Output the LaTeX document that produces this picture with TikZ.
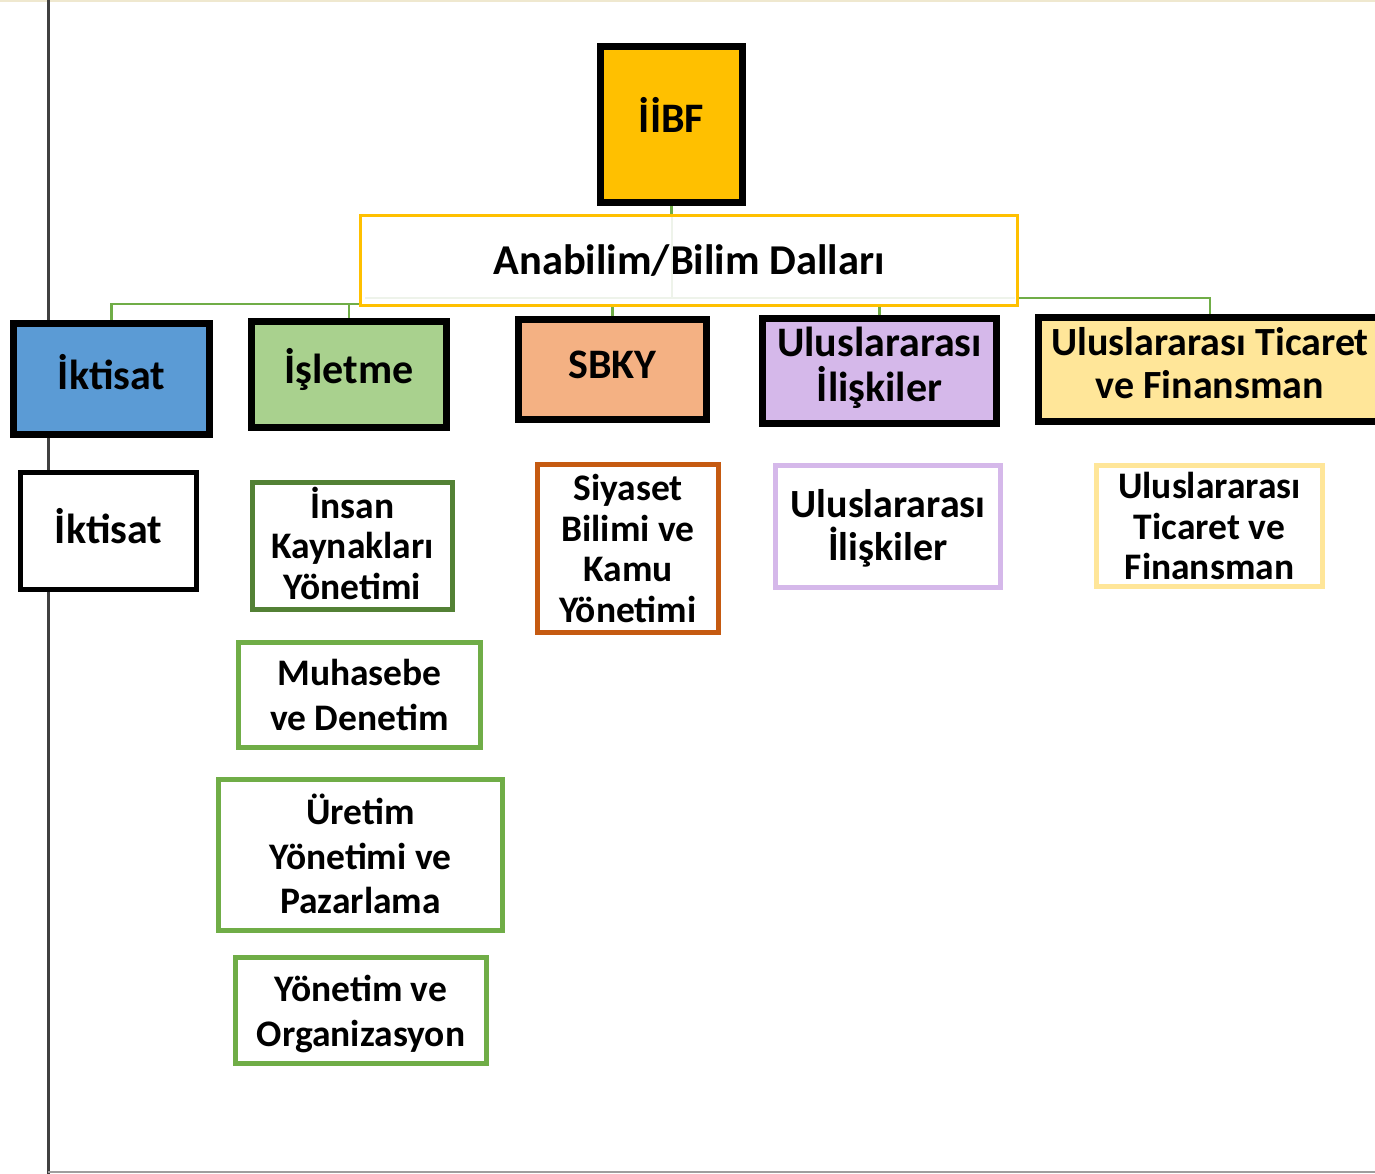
\documentclass[tikz,border=0pt]{standalone}
\usepackage{fontspec}
\setmainfont{Carlito}
\usetikzlibrary{backgrounds}
\definecolor{gold}{HTML}{FFC000}
\definecolor{blu}{HTML}{5B9BD5}
\definecolor{lgreen}{HTML}{A9D18E}
\definecolor{salmon}{HTML}{F4B183}
\definecolor{lav}{HTML}{D5B8EA}
\definecolor{lyel}{HTML}{FFE699}
\definecolor{grn}{HTML}{70AD47}
\definecolor{dgrn}{HTML}{538135}
\definecolor{rust}{HTML}{C55A11}
\definecolor{faint}{HTML}{EEF3EA}
\definecolor{cream}{HTML}{EFE8CF}
\definecolor{axis}{HTML}{404040}
\newcommand\fsz[2]{\fontsize{#1}{#2}\selectfont}
\begin{document}
\begin{tikzpicture}[x=1pt,y=-1pt,
  every node/.style={align=center, inner sep=0pt, rectangle},
  topbox/.style={draw=black, line width=7pt},
  subbox/.style={draw, line width=4.5pt, fill=white},
  conn/.style={draw=grn, line width=2.2pt}]
\useasboundingbox (0,0) rectangle (1375,1174);
% frame lines
\begin{scope}[on background layer]
\fill[white] (0,0) rectangle (1375,1174);
\draw[cream, line width=2pt] (0,1) -- (1375,1);
\draw[axis, line width=3pt] (48,0) -- (48,1174);
\draw[black!38, line width=1.6pt] (48,1172) -- (1375,1172);
\end{scope}
% root
\node[topbox, fill=gold, minimum width=142pt, minimum height=156pt,
  label={[font=\bfseries\fsz{42}{45}, yshift=9.5pt]center:İİBF}] (iibf) at (671.5,124.5) {};
\node[draw=gold, line width=2.5pt, fill=white, minimum width=657pt, minimum height=90pt,
  font=\bfseries\fsz{42.5}{48}] (ana) at (689,260.5) {Anabilim/Bilim Dalları};
% departments
\node[topbox, fill=blu, minimum width=196pt, minimum height=111pt,
  label={[font=\bfseries\fsz{42}{45}, yshift=7pt]center:İktisat}] (ikt) at (111.5,379) {};
\node[topbox, fill=lgreen, minimum width=195pt, minimum height=106pt,
  label={[font=\bfseries\fsz{42}{45}, yshift=5.5pt]center:İşletme}] (isl) at (349,374.5) {};
\node[topbox, fill=salmon, minimum width=188pt, minimum height=100pt,
  label={[font=\bfseries\fsz{42}{45}, yshift=4.5pt]center:SBKY}] (sb) at (612.5,369.5) {};
\node[topbox, fill=lav, minimum width=234pt, minimum height=105pt,
  label={[font=\bfseries\fsz{42}{45}, yshift=3pt]center:Uluslararası\\İlişkiler}] (ui) at (879.5,371) {};
\node[topbox, fill=lyel, minimum width=343pt, minimum height=104pt,
  label={[font=\bfseries\fsz{40}{43}, yshift=6pt]center:Uluslararası Ticaret\\ve Finansman}] (utf) at (1210,369.5) {};
% connectors
\begin{scope}[on background layer]
\coordinate (hl) at (0,304);
\coordinate (hr) at (0,298);
\draw[conn] (iibf.south) -- (iibf.south |- ana.north);
\draw[conn] (ikt.north) |- (isl.north |- hl) -- (isl.north);
\draw[conn] (isl.north |- hl) -- (400,304);
\draw[conn] (sb.north) -- (sb.north |- hr);
\draw[conn] (ui.north) -- (ui.north |- hr);
\draw[conn] (utf.north) |- (sb.north |- hr);
\end{scope}
\draw[faint, line width=2pt] (671.5,217) -- (671.5,298);
\draw[faint, line width=2pt] (365,298) -- (1015,298);
% sub-departments
\node[subbox, draw=black, line width=5pt, minimum width=176pt, minimum height=117pt,
  label={[font=\bfseries\fsz{42}{45}, yshift=4.5pt]center:İktisat}] (ikt2) at (108.5,531) {};
\node[subbox, draw=dgrn, minimum width=200pt, minimum height=127pt,
  label={[font=\bfseries\fsz{37.5}{40.5}, yshift=3pt]center:İnsan\\Kaynakları\\Yönetimi}] (ik) at (352.5,546) {};
\node[subbox, draw=grn, minimum width=242pt, minimum height=105pt,
  label={[font=\bfseries\fsz{37.5}{45}]center:Muhasebe\\ve Denetim}] (muh) at (359.5,695) {};
\node[subbox, draw=grn, minimum width=284pt, minimum height=151pt,
  label={[font=\bfseries\fsz{37.5}{44.5}, yshift=1pt]center:Üretim\\Yönetimi ve\\Pazarlama}] (ure) at (360.5,855) {};
\node[subbox, draw=grn, minimum width=251pt, minimum height=106pt,
  label={[font=\bfseries\fsz{37.5}{45}, yshift=-3pt]center:Yönetim ve\\Organizasyon}] (yon) at (361,1010.5) {};
\node[subbox, draw=rust, minimum width=181pt, minimum height=168pt,
  label={[font=\bfseries\fsz{37.5}{40.7}]center:Siyaset\\Bilimi ve\\Kamu\\Yönetimi}] (sbk) at (628,548.5) {};
\node[subbox, draw=lav, minimum width=225pt, minimum height=122pt,
  label={[font=\bfseries\fsz{40}{43}, yshift=-2pt]center:Uluslararası\\İlişkiler}] (ui2) at (888,526.5) {};
\node[subbox, draw=lyel, minimum width=226pt, minimum height=121pt,
  label={[font=\bfseries\fsz{37.5}{40.5}]center:Uluslararası\\Ticaret ve\\Finansman}] (utf2) at (1209.5,526) {};
\end{tikzpicture}
\end{document}
